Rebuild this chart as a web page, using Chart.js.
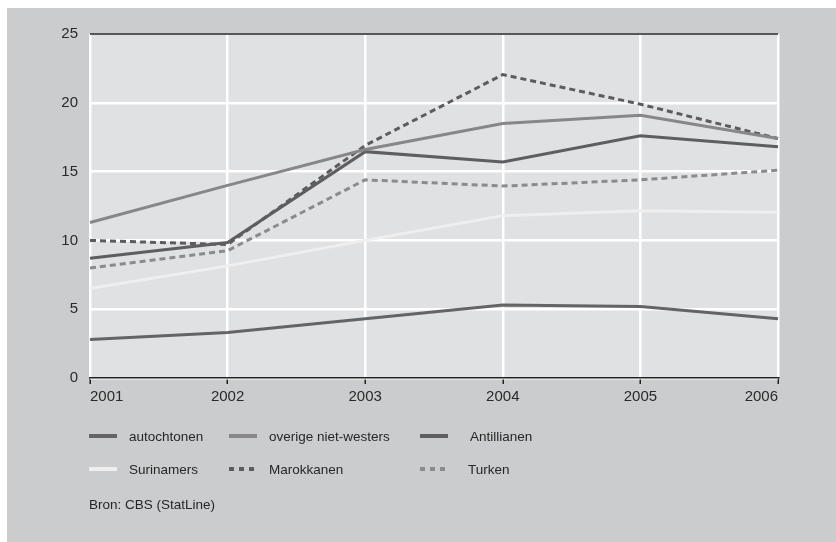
<!DOCTYPE html>
<html>
<head>
<meta charset="utf-8">
<script src="https://cdn.jsdelivr.net/npm/chart.js@4"></script>
<style>
  html, body { margin: 0; padding: 0; background: #ffffff; }
  body { width: 836px; height: 542px; position: relative; overflow: hidden;
         font-family: 'Liberation Sans', Arial, sans-serif; }
  #panel { position: absolute; left: 7px; top: 8px; width: 829px; height: 534px; background: #cbcccd; }
  #chart { position: absolute; left: 0; top: 0; }
  .lg { position: absolute; height: 20px; display: flex; align-items: center; font-size: 13.5px; color: #262626; }
  .lg .swatch { width: 28px; height: 0; border-top-width: 4px; margin-right: 12px; }
  #source { position: absolute; left: 82px; top: 489px; font-size: 13.5px; color: #262626; }
</style>
</head>
<body>
<div id="panel">
  <canvas id="chart" width="829" height="534"></canvas>
  <div id="legend"></div>
  <div id="source">Bron: CBS (StatLine)</div>
</div>
<script>
const YEARS = ['2001', '2002', '2003', '2004', '2005', '2006'];

const SERIES_NAMES = ['autochtonen', 'overige niet-westers', 'Antillianen', 'Surinamers', 'Marokkanen', 'Turken'];

const autochtonen        = [2.8, 3.3, 4.3, 5.3, 5.2, 4.3];
const overigeNietWesters = [11.3, 14.0, 16.6, 18.5, 19.1, 17.4];
const antillianen        = [8.7, 9.85, 16.45, 15.7, 17.6, 16.8];
const surinamers         = [6.5, 8.15, 10.0, 11.8, 12.15, 12.05];
const marokkanen         = [10.0, 9.7, 16.9, 22.05, 19.9, 17.4];
const turken             = [8.0, 9.25, 14.4, 13.95, 14.4, 15.1];

const SERIES_DATA   = [autochtonen, overigeNietWesters, antillianen, surinamers, marokkanen, turken];
const SERIES_COLORS = ['#646466', '#87878a', '#5e5e60', '#efefef', '#5c5c5e', '#8b8b8d'];
const SERIES_DASHED = [false, false, false, false, true, true];

const PLOT_BG = '#e0e1e3';

// achtergrond van het plotvlak
const plotBackground = {
  id: 'plotBackground',
  beforeDraw(chart) {
    const { ctx, chartArea: a } = chart;
    ctx.save();
    ctx.fillStyle = PLOT_BG;
    ctx.fillRect(a.left, a.top, a.right - a.left, a.bottom - a.top);
    ctx.restore();
  },
};

new Chart(document.getElementById('chart'), {
  type: 'line',
  data: {
    labels: YEARS,
    datasets: SERIES_NAMES.map((name, i) => ({
      label: name,
      data: SERIES_DATA[i],
      borderColor: SERIES_COLORS[i],
      borderWidth: 3,
      borderDash: SERIES_DASHED[i] ? [6, 4] : [],
      pointRadius: 0,
      tension: 0,
      fill: false,
    })),
  },
  options: {
    responsive: false,
    animation: false,
    layout: { padding: { left: 33, top: 26, right: 58, bottom: 124 } },
    plugins: { legend: { display: false }, tooltip: { enabled: false } },
    scales: {
      x: {
        afterFit(scale) { scale.height = 40; },
        grid: {
          color: '#ffffff', lineWidth: 2.5,
          tickColor: '#222222', tickLength: 6, tickWidth: 1.5,
        },
        border: { color: '#222222', width: 1.5 },
        ticks: { color: '#2a2a2a', font: { size: 15 }, padding: 4, align: 'inner', maxRotation: 0 },
      },
      y: {
        min: 0, max: 25,
        afterFit(scale) { scale.width = 50; },
        grid: {
          color: ctx => ctx.tick && ctx.tick.value === 25 ? '#58585a' : '#ffffff',
          lineWidth: ctx => ctx.tick && ctx.tick.value === 25 ? 2 : 2.5,
          drawTicks: false,
        },
        border: { display: false },
        ticks: { stepSize: 5, color: '#2a2a2a', font: { size: 15 }, padding: 12 },
      },
    },
  },
  plugins: [plotBackground],
});

// legenda in drie kolommen
const LEGEND_COLS = [82, 222, 413];
const LEGEND_ROWS = [418, 451];
const legend = document.getElementById('legend');
SERIES_NAMES.forEach((name, i) => {
  const item = document.createElement('div');
  item.className = 'lg';
  item.style.left = LEGEND_COLS[i % 3] + 'px';
  item.style.top  = LEGEND_ROWS[Math.floor(i / 3)] + 'px';
  const sw = document.createElement('span');
  sw.className = 'swatch';
  sw.style.borderTopStyle = 'solid';
  sw.style.borderTopColor = SERIES_COLORS[i];
  if (SERIES_DASHED[i]) {
    sw.style.borderTop = 'none';
    sw.style.height = '4px';
    sw.style.width = '26px';
    sw.style.marginRight = '14px';
    sw.style.background = `repeating-linear-gradient(90deg, ${SERIES_COLORS[i]} 0 5px, transparent 5px 10px)`;
  }
  if (i % 3 === 2) sw.style.marginRight = '22px';
  item.appendChild(sw);
  item.appendChild(document.createTextNode(name));
  legend.appendChild(item);
});
</script>
</body>
</html>
